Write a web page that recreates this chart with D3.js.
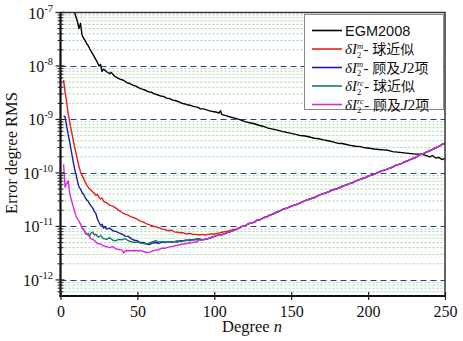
<!DOCTYPE html>
<html><head><meta charset="utf-8">
<script src="https://cdn.jsdelivr.net/npm/d3@7"></script>
<style>body{margin:0;background:#fff} svg{display:block}</style>
</head><body>
<svg id="c" width="463" height="341"></svg>
<script>
// ---------- data ----------
const xTicks = [0, 50, 100, 150, 200, 250];
const yExponents = [-12, -11, -10, -9, -8, -7];

const egmDeg = [9,10,11,12,13,14,15,16,17,18,19,20,21,22,23,24,25,26,27,28,29,30,32,33,35,37,39,41,43,45,47,49,51,53,55,57,59,61,63,65,67,69,71,73,75,77,79,81,83,85,87,89,91,93,95,97,99,101,103,104,105,108,111,114,117,120,123,126,129,132,135,138,141,144,147,150,153,156,159,162,165,168,171,174,177,180,183,186,189,192,195,198,201,204,207,210,213,216,219,222,225,228,231,234,237,240,242,244,246,248,250];
const egmVal = [1.05e-7,8.3e-8,6.8e-8,5.0e-8,6.3e-8,3.8e-8,3.3e-8,3.0e-8,2.6e-8,2.4e-8,2.1e-8,1.86e-8,1.66e-8,1.48e-8,1.32e-8,1.17e-8,1.0e-8,1.07e-8,7.9e-9,8.7e-9,8.3e-9,7.8e-9,7.2e-9,7.6e-9,6.5e-9,6.0e-9,5.6e-9,5.4e-9,4.9e-9,4.7e-9,4.4e-9,4.2e-9,3.9e-9,3.7e-9,3.55e-9,3.3e-9,3.25e-9,3.0e-9,2.9e-9,2.75e-9,2.7e-9,2.5e-9,2.45e-9,2.3e-9,2.24e-9,2.14e-9,2.0e-9,1.95e-9,1.86e-9,1.82e-9,1.74e-9,1.7e-9,1.58e-9,1.58e-9,1.51e-9,1.45e-9,1.41e-9,1.38e-9,1.32e-9,1.45e-9,1.23e-9,1.17e-9,1.1e-9,1.05e-9,9.8e-10,9.1e-10,8.7e-10,8.3e-10,7.8e-10,7.4e-10,6.9e-10,6.6e-10,6.3e-10,6.0e-10,5.75e-10,5.5e-10,5.25e-10,5.0e-10,4.9e-10,4.7e-10,4.45e-10,4.35e-10,4.15e-10,4.0e-10,3.8e-10,3.6e-10,3.55e-10,3.4e-10,3.25e-10,3.15e-10,3.1e-10,2.95e-10,2.9e-10,2.8e-10,2.75e-10,2.7e-10,2.65e-10,2.5e-10,2.45e-10,2.4e-10,2.35e-10,2.3e-10,2.25e-10,2.25e-10,2.15e-10,2.0e-10,2.1e-10,1.9e-10,1.95e-10,1.78e-10,1.86e-10];

const redDeg = [2,3,4,5,6,7,8,9,10,11,12,13,14,15,16,17,18,19,20,21,22,23,24,25,26,27,28,30,32,34,36,38,40,42,44,46,48,50,52,54,56,58,60,62,64,66,68,70,72,74,76,78,80,82,84,86,88,90,92,94,96,98,100,102,104,106,108,110,112,114];
const redVal = [5.5e-9,3.2e-9,2.1e-9,1.26e-9,8.9e-10,6.3e-10,4.5e-10,3.2e-10,2.4e-10,1.78e-10,1.32e-10,1.05e-10,9.1e-11,7.9e-11,6.8e-11,6.0e-11,5.4e-11,5.0e-11,4.7e-11,4.4e-11,4.2e-11,3.8e-11,4.0e-11,3.5e-11,3.25e-11,3.4e-11,2.95e-11,2.75e-11,2.5e-11,2.4e-11,2.2e-11,2.0e-11,1.82e-11,1.7e-11,1.62e-11,1.51e-11,1.45e-11,1.35e-11,1.26e-11,1.2e-11,1.12e-11,1.07e-11,1.02e-11,9.8e-12,9.5e-12,8.9e-12,8.7e-12,8.3e-12,8.5e-12,7.9e-12,7.8e-12,7.6e-12,7.6e-12,7.2e-12,7.4e-12,7.1e-12,7.1e-12,6.9e-12,7.1e-12,6.9e-12,7.1e-12,7.2e-12,7.2e-12,7.4e-12,7.6e-12,7.9e-12,8.1e-12,8.3e-12,8.7e-12,8.9e-12];

const blueDeg = [2,3,4,5,6,7,8,9,10,11,12,13,14,15,16,17,18,19,20,21,22,23,24,25,26,27,28,29,30,32,34,36,38,40,42,44,46,48,50,52,54,56,58,60,62,64,66,68,70,72,74,76,78,80,82,84,86,88,90];
const blueVal = [1.17e-9,1.12e-9,7.6e-10,5.2e-10,3.8e-10,2.6e-10,1.78e-10,1.26e-10,9.5e-11,7.1e-11,5.5e-11,5.0e-11,4.3e-11,4.0e-11,3.5e-11,3.15e-11,2.95e-11,2.6e-11,2.4e-11,2.2e-11,1.9e-11,1.74e-11,1.38e-11,1.2e-11,1.05e-11,1.1e-11,9.3e-12,1.0e-11,8.9e-12,9.3e-12,8.3e-12,8.1e-12,7.6e-12,7.2e-12,6.6e-12,6.5e-12,5.9e-12,5.5e-12,5.4e-12,5.0e-12,5.0e-12,4.7e-12,4.6e-12,4.9e-12,5.0e-12,4.8e-12,5.1e-12,5.0e-12,5.2e-12,5.1e-12,5.2e-12,5.1e-12,5.4e-12,5.4e-12,5.5e-12,5.6e-12,5.6e-12,5.75e-12,5.9e-12];

const tealDeg = [14,15,16,17,18,19,20,21,22,23,24,25,26,28,30,32,34,36,38,40,42,44,46,48,50,52,54,56,58,60,62,64,66,68,70,72,74,76,78,80,82,84,86,88,90];
const tealVal = [9.5e-12,8.7e-12,7.6e-12,7.1e-12,7.4e-12,6.6e-12,7.6e-12,7.8e-12,6.9e-12,7.2e-12,6.5e-12,6.3e-12,6.8e-12,5.9e-12,5.75e-12,6.2e-12,5.5e-12,5.4e-12,5.75e-12,5.6e-12,5.9e-12,5.4e-12,5.2e-12,5.0e-12,5.1e-12,4.9e-12,4.8e-12,4.7e-12,4.9e-12,5.2e-12,5.4e-12,5.1e-12,5.2e-12,5.1e-12,5.2e-12,5.0e-12,5.2e-12,5.4e-12,5.2e-12,5.4e-12,5.5e-12,5.4e-12,5.6e-12,5.6e-12,5.75e-12];

const magDeg = [2,3,4,5,6,7,8,9,10,11,12,13,14,15,16,17,18,19,20,22,24,26,28,30,32,34,36,38,40,41,42,44,46,48,50,52,54,56,58,60,62,64,66,68,70,72,74,76,78,80,82,84,86,88,90,92,94,96,98,100,102,104,106,108,110,112,114,116,118,120,122,124,126,128,130,132,134,136,138,140,142,144,146,148,150,152,154,156,158,160,162,164,166,168,170,172,174,176,178,180,182,184,186,188,190,192,194,196,198,200,202,204,206,208,210,212,214,216,218,220,222,224,226,228,230,232,234,236,238,240,242,244,246,248,250];
const magVal = [1.45e-10,5.4e-11,6.3e-11,7.1e-11,4.2e-11,3.15e-11,2.5e-11,2.0e-11,1.58e-11,1.38e-11,1.26e-11,1.12e-11,9.5e-12,8.7e-12,7.9e-12,7.2e-12,6.9e-12,6.3e-12,5.9e-12,5.5e-12,4.8e-12,4.7e-12,4.3e-12,4.2e-12,4.0e-12,4.2e-12,3.8e-12,3.7e-12,3.6e-12,3.15e-12,3.5e-12,3.55e-12,3.5e-12,3.55e-12,3.5e-12,3.55e-12,3.4e-12,3.25e-12,3.3e-12,3.5e-12,3.6e-12,3.7e-12,3.9e-12,3.9e-12,4.1e-12,4.2e-12,4.3e-12,4.45e-12,4.6e-12,4.7e-12,4.8e-12,4.9e-12,5.0e-12,5.1e-12,5.5e-12,5.6e-12,5.75e-12,5.9e-12,6.2e-12,6.5e-12,6.8e-12,6.9e-12,7.2e-12,7.6e-12,7.9e-12,8.3e-12,8.7e-12,9.3e-12,1.0e-11,1.02e-11,1.12e-11,1.15e-11,1.2e-11,1.32e-11,1.35e-11,1.45e-11,1.51e-11,1.62e-11,1.7e-11,1.82e-11,1.9e-11,2.05e-11,2.15e-11,2.25e-11,2.4e-11,2.5e-11,2.6e-11,2.75e-11,2.95e-11,3.1e-11,3.25e-11,3.4e-11,3.55e-11,3.8e-11,4.0e-11,4.2e-11,4.4e-11,4.7e-11,4.9e-11,5.1e-11,5.4e-11,5.75e-11,6.0e-11,6.3e-11,6.6e-11,7.1e-11,7.4e-11,7.8e-11,8.1e-11,8.7e-11,9.1e-11,9.5e-11,1.0e-10,1.07e-10,1.12e-10,1.17e-10,1.23e-10,1.29e-10,1.38e-10,1.45e-10,1.51e-10,1.62e-10,1.7e-10,1.82e-10,1.9e-10,2.05e-10,2.2e-10,2.3e-10,2.45e-10,2.6e-10,2.75e-10,2.95e-10,3.15e-10,3.4e-10,3.6e-10];

const seriesNames = ["EGM2008", "m-sphere", "m-J2", "rc-sphere", "rc-J2"];
const seriesColors = ["#000000", "#e3201b", "#1c1ca8", "#1a7a62", "#dc28dc"];
const legendSup = [null, "m", "m", "rc", "rc"];
const legendZh = [null, "球近似", "顾及J2项", "球近似", "顾及J2项"];

// ---------- layout ----------
const L = 60.5, R = 445, T = 12.5, B = 296;
const svg = d3.select("#c");
const x = d3.scaleLinear().domain([0, 250]).range([L, R]);
const y = d3.scaleLog().domain([5e-13, 1e-7]).range([B, T]);
const serif = "'Liberation Serif','Times New Roman',serif";
const sans = "'Liberation Sans',Arial,sans-serif";
const cjk = "'Noto Sans CJK SC',sans-serif";

// minor gridlines
const minorVals = [];
for (let e = -13; e <= -8; e++) for (let k = 2; k <= 9; k++) {
  const v = k * Math.pow(10, e);
  if (v > 5.01e-13 && v < 0.99e-7) minorVals.push(v);
}
svg.append("g").selectAll("line").data(minorVals).join("line")
  .attr("x1", L).attr("x2", R).attr("y1", d => y(d)).attr("y2", d => y(d))
  .attr("stroke", "#9fd49f").attr("stroke-width", 1).attr("stroke-dasharray", "2,2");
// major gridlines
const majorVals = yExponents.map(e => Math.pow(10, e)).filter(v => v < 0.99e-7);
svg.append("g").selectAll("line").data(majorVals).join("line")
  .attr("x1", L).attr("x2", R).attr("y1", d => Math.round(y(d)) + 0.5).attr("y2", d => Math.round(y(d)) + 0.5)
  .attr("stroke", "#2e3f8a").attr("stroke-width", 1.2).attr("stroke-dasharray", "6,4");

// clip
svg.append("clipPath").attr("id", "clip").append("rect")
  .attr("x", L).attr("y", T).attr("width", R - L).attr("height", B - T);

const seriesData = [
  [egmDeg, egmVal], [redDeg, redVal], [blueDeg, blueVal], [tealDeg, tealVal], [magDeg, magVal]
].map(([d, v]) => d.map((n, i) => ({ n, v: v[i] })));
// merged tails (hidden under magenta) for red, blue, teal
[1, 2, 3].forEach(si => {
  const last = seriesData[si][seriesData[si].length - 1].n;
  seriesData[4].filter(p => p.n > last).forEach(p => seriesData[si].push(p));
});

const line = d3.line().x(d => x(d.n)).y(d => y(d.v));
svg.append("g").attr("clip-path", "url(#clip)").selectAll("path").data(seriesData).join("path")
  .attr("d", line).attr("fill", "none")
  .attr("stroke", (d, i) => seriesColors[i]).attr("stroke-width", 1.4)
  .attr("stroke-linejoin", "round");

// frame
svg.append("rect").attr("x", L).attr("y", T).attr("width", R - L).attr("height", B - T)
  .attr("fill", "none").attr("stroke", "#333").attr("stroke-width", 1.5);
svg.append("line").attr("x1", L).attr("x2", L).attr("y1", T).attr("y2", B + 1).attr("stroke", "#111").attr("stroke-width", 2);
svg.append("line").attr("x1", L - 1).attr("x2", R + 1).attr("y1", B).attr("y2", B).attr("stroke", "#111").attr("stroke-width", 2);

// y ticks
svg.append("g").selectAll("line").data(minorVals).join("line")
  .attr("x1", L - 3).attr("x2", L + 3).attr("y1", d => y(d)).attr("y2", d => y(d))
  .attr("stroke", "#222").attr("stroke-width", 1);
svg.append("g").selectAll("line").data(yExponents.map(e => Math.pow(10, e))).join("line")
  .attr("x1", L - 5).attr("x2", L + 4).attr("y1", d => y(d)).attr("y2", d => y(d))
  .attr("stroke", "#222").attr("stroke-width", 1.2);
// y labels
const yl = svg.append("g").selectAll("text").data(yExponents).join("text")
  .attr("x", 53).attr("y", d => y(Math.pow(10, d)) + 6)
  .attr("text-anchor", "end").attr("font-family", serif).attr("font-size", 16).attr("fill", "#111");
yl.append("tspan").text("10");
yl.append("tspan").attr("dy", -7).attr("font-size", 10.5).text(d => "-" + Math.abs(d));

// x ticks
const xAxis = d3.axisBottom(x).tickValues(xTicks).tickSize(4).tickPadding(6);
const gx = svg.append("g").attr("transform", `translate(0,${B})`).call(xAxis);
gx.select(".domain").remove();
gx.selectAll(".tick line").attr("y1", -4).attr("stroke", "#222").attr("stroke-width", 1.2);
gx.selectAll(".tick text").attr("font-family", serif).attr("font-size", 16).attr("fill", "#111")
  .attr("dy", null).attr("y", 21);

// axis titles
svg.append("text").attr("transform", "translate(17,153) rotate(-90)").attr("text-anchor", "middle")
  .attr("font-family", serif).attr("font-size", 16.5).attr("fill", "#111").text("Error degree RMS");
const xt = svg.append("text").attr("x", 252).attr("y", 332).attr("text-anchor", "middle")
  .attr("font-family", serif).attr("font-size", 16.5).attr("fill", "#111");
xt.append("tspan").text("Degree ");
xt.append("tspan").attr("font-style", "italic").text("n");

// legend
const lg = svg.append("g");
lg.append("rect").attr("x", 304.5).attr("y", 14.5).attr("width", 139).attr("height", 95)
  .attr("fill", "#fff").attr("stroke", "#8a8a8a").attr("stroke-width", 1);
const rowY = [30.5, 49, 67.5, 86, 104.5];
seriesNames.forEach((name, i) => {
  const cy = rowY[i];
  lg.append("line").attr("x1", 312).attr("x2", 342).attr("y1", cy).attr("y2", cy)
    .attr("stroke", seriesColors[i]).attr("stroke-width", 1.6);
  if (i === 0) {
    lg.append("text").attr("x", 345).attr("y", cy + 5.5).attr("font-family", sans)
      .attr("font-size", 14.5).attr("fill", "#111").text(name);
    return;
  }
  const t1 = lg.append("text").attr("x", 345).attr("y", cy + 5).attr("font-family", serif)
    .attr("font-style", "italic").attr("font-size", 15).attr("fill", "#111").text("δI");
  const w = t1.node().getComputedTextLength();
  const sx = 345 + w;
  lg.append("text").attr("x", sx).attr("y", cy + 8.5).attr("font-family", serif)
    .attr("font-size", 8.5).attr("fill", "#111").text("2");
  const sp = lg.append("text").attr("x", sx).attr("y", cy - 0.5).attr("font-family", serif)
    .attr("font-style", "italic").attr("font-size", 8.5).attr("fill", "#111").text(legendSup[i]);
  const sw = Math.max(sp.node().getComputedTextLength(), 5);
  const t2 = lg.append("text").attr("x", sx + sw + 0.5).attr("y", cy + 5).attr("fill", "#111");
  t2.append("tspan").attr("font-family", serif).attr("font-size", 15).text("- ");
  const zh = legendZh[i];
  const m = zh.match(/^(.*?)J2(.*)$/);
  if (m) {
    t2.append("tspan").attr("font-family", cjk).attr("font-size", 14).text(m[1]);
    t2.append("tspan").attr("font-family", serif).attr("font-style", "italic").attr("font-size", 15).text("J");
    t2.append("tspan").attr("font-family", serif).attr("font-size", 15).text("2");
    t2.append("tspan").attr("font-family", cjk).attr("font-size", 14).text(m[2]);
  } else {
    t2.append("tspan").attr("font-family", cjk).attr("font-size", 14).text(zh);
  }
});
</script>
</body></html>
